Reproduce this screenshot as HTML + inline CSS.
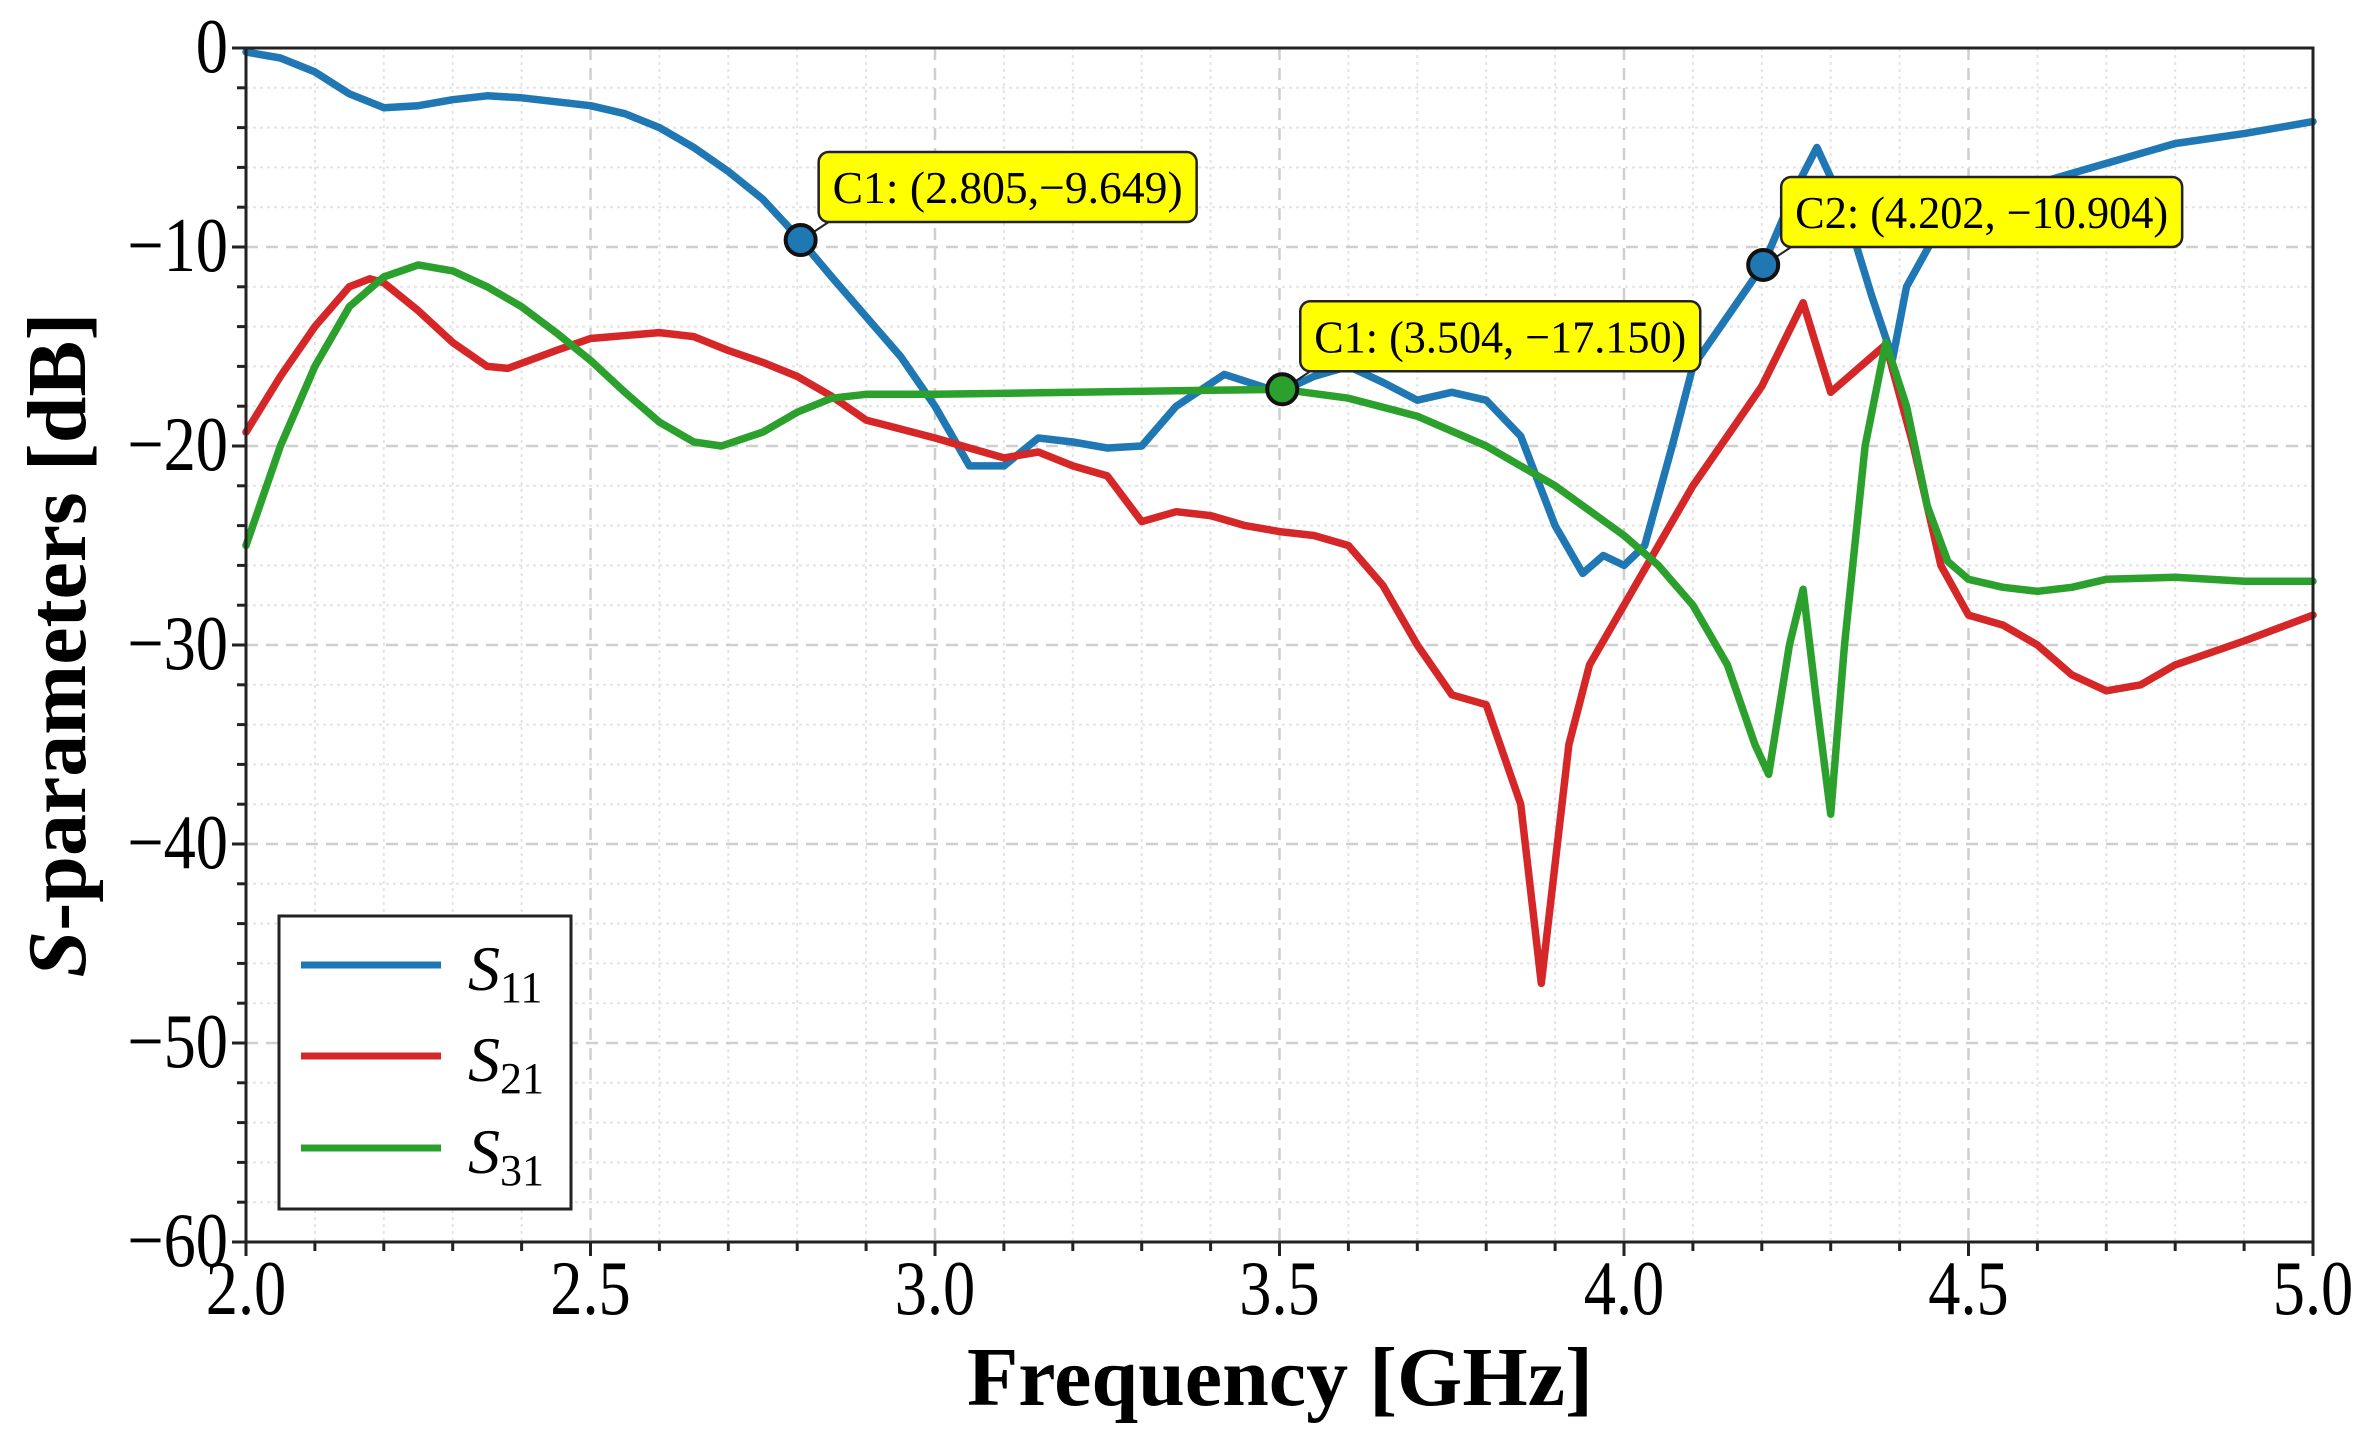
<!DOCTYPE html>
<html><head><meta charset="utf-8"><style>
html,body{margin:0;padding:0;background:#fff;}
svg{display:block;font-family:"Liberation Serif",serif;}
</style></head><body>
<svg id="chart" width="2368" height="1435" viewBox="0 0 2368 1435" xmlns="http://www.w3.org/2000/svg">
<g id="grid"></g>
<g id="series"></g>
<rect x="246" y="48" width="2067" height="1194" fill="none" stroke="#222" stroke-width="3"/>
<g id="ticks"></g>
<g id="annots"></g>
<text x="1280" y="1405" text-anchor="middle" font-size="84" font-weight="bold">Frequency [GHz]</text>
<text transform="translate(85,645) rotate(-90)" text-anchor="middle" font-size="84" font-weight="bold"><tspan font-style="italic">S</tspan>-parameters [dB]</text>
<g>
<rect x="279" y="916" width="292" height="293" fill="#fff" stroke="#222" stroke-width="3"/>
<line x1="301" y1="965" x2="441" y2="965" stroke="#1f77b4" stroke-width="7"/>
<text x="468" y="990" font-size="64" font-style="italic">S<tspan font-size="44" font-style="normal" dy="12">11</tspan></text>
<line x1="301" y1="1056" x2="441" y2="1056" stroke="#d62728" stroke-width="7"/>
<text x="468" y="1081" font-size="64" font-style="italic">S<tspan font-size="44" font-style="normal" dy="12">21</tspan></text>
<line x1="301" y1="1148" x2="441" y2="1148" stroke="#2ca02c" stroke-width="7"/>
<text x="468" y="1173" font-size="64" font-style="italic">S<tspan font-size="44" font-style="normal" dy="12">31</tspan></text>
</g>
</svg>
<script>
const s11F=[2.0,2.05,2.1,2.15,2.2,2.25,2.3,2.35,2.4,2.5,2.55,2.6,2.65,2.7,2.75,2.805,2.85,2.9,2.95,3.0,3.05,3.1,3.15,3.2,3.25,3.3,3.35,3.42,3.5,3.55,3.6,3.65,3.7,3.75,3.8,3.85,3.9,3.94,3.97,4.0,4.03,4.07,4.1,4.15,4.202,4.25,4.28,4.32,4.36,4.39,4.41,4.45,4.5,4.6,4.7,4.8,4.9,5.0];
const s11V=[-0.2,-0.5,-1.2,-2.3,-3.0,-2.9,-2.6,-2.4,-2.5,-2.9,-3.3,-4.0,-5.0,-6.2,-7.6,-9.649,-11.5,-13.5,-15.5,-18,-21,-21,-19.6,-19.8,-20.1,-20,-18,-16.4,-17.3,-16.5,-16,-16.8,-17.7,-17.3,-17.7,-19.5,-24,-26.4,-25.5,-26,-25,-20,-16,-13.5,-10.904,-7,-5,-8,-12.5,-15.6,-12,-9.5,-8,-6.8,-5.8,-4.8,-4.3,-3.7];
const s21F=[2.0,2.05,2.1,2.15,2.18,2.2,2.25,2.3,2.35,2.38,2.45,2.5,2.6,2.65,2.7,2.75,2.8,2.85,2.9,3.0,3.05,3.1,3.15,3.2,3.25,3.3,3.35,3.4,3.45,3.5,3.55,3.6,3.65,3.7,3.75,3.8,3.85,3.88,3.92,3.95,4.0,4.05,4.1,4.15,4.2,4.26,4.3,4.38,4.42,4.46,4.5,4.55,4.6,4.65,4.7,4.75,4.8,4.9,5.0];
const s21V=[-19.3,-16.5,-14,-12,-11.6,-11.8,-13.2,-14.8,-16,-16.1,-15.2,-14.6,-14.3,-14.5,-15.2,-15.8,-16.5,-17.5,-18.7,-19.6,-20.1,-20.6,-20.3,-21,-21.5,-23.8,-23.3,-23.5,-24,-24.3,-24.5,-25,-27,-30,-32.5,-33,-38,-47,-35,-31,-28,-25,-22,-19.5,-17,-12.8,-17.3,-14.9,-20,-26,-28.5,-29,-30,-31.5,-32.3,-32,-31,-29.8,-28.5];
const s31F=[2.0,2.05,2.1,2.15,2.2,2.25,2.3,2.35,2.4,2.45,2.5,2.55,2.6,2.65,2.69,2.75,2.8,2.85,2.9,3.0,3.2,3.4,3.504,3.6,3.7,3.8,3.9,4.0,4.05,4.1,4.15,4.19,4.21,4.24,4.26,4.28,4.3,4.32,4.35,4.38,4.41,4.44,4.47,4.5,4.55,4.6,4.65,4.7,4.8,4.9,5.0];
const s31V=[-25,-20,-16,-13,-11.5,-10.9,-11.2,-12,-13,-14.3,-15.7,-17.3,-18.8,-19.8,-20,-19.3,-18.3,-17.6,-17.4,-17.4,-17.3,-17.2,-17.15,-17.6,-18.5,-20,-22,-24.5,-26,-28,-31,-35,-36.5,-30,-27.2,-33,-38.5,-30,-20,-14.8,-18,-23,-25.8,-26.7,-27.1,-27.3,-27.1,-26.7,-26.6,-26.8,-26.8];
const xTicks=["2.0","2.5","3.0","3.5","4.0","4.5","5.0"];
const yTicks=["0","\u221210","\u221220","\u221230","\u221240","\u221250","\u221260"];
const markerF=[2.805,3.504,4.202];
const markerV=[-9.649,-17.15,-10.904];
const markerLabels=["C1: (2.805,\u22129.649)","C1: (3.504, \u221217.150)","C2: (4.202, \u221210.904)"];

const X0=246,X1=2313,Y0=48,Y1=1242,FMIN=2,FMAX=5,VMIN=-60,VMAX=0;
const sx=f=>X0+(f-FMIN)/(FMAX-FMIN)*(X1-X0);
const sy=v=>Y0+(VMAX-v)/(VMAX-VMIN)*(Y1-Y0);
const NS="http://www.w3.org/2000/svg";
function mk(tag,attrs,parent){const e=document.createElementNS(NS,tag);for(const k in attrs)e.setAttribute(k,attrs[k]);parent.appendChild(e);return e;}
const grid=document.getElementById('grid'),ticks=document.getElementById('ticks'),series=document.getElementById('series'),ann=document.getElementById('annots');
for(let i=0;i<=30;i++){const f=FMIN+i*0.1;const x=sx(f);
 const l=mk('line',{x1:x,y1:Y0,x2:x,y2:Y1,stroke:i%5==0?'#cfcfcf':'#e4e4e4','stroke-width':i%5==0?2.5:2,'stroke-dasharray':i%5==0?'12,8':'3,4'},grid);
 
 const t=mk('line',{x1:x,y1:Y1,x2:x,y2:Y1+(i%5==0?14:9),stroke:'#222','stroke-width':3},ticks);
 }
for(let i=0;i<=30;i++){const v=VMAX-i*2;const y=sy(v);
 const l=mk('line',{x1:X0,y1:y,x2:X1,y2:y,stroke:i%5==0?'#cfcfcf':'#e4e4e4','stroke-width':i%5==0?2.5:2,'stroke-dasharray':i%5==0?'12,8':'3,4'},grid);
 
 const t=mk('line',{x1:X0,y1:y,x2:X0-(i%5==0?14:9),y2:y,stroke:'#222','stroke-width':3},ticks);
 }
xTicks.forEach((s,i)=>{const x=sx(FMIN+i*0.5);const t=mk('text',{x:0,y:0,'text-anchor':'middle','font-size':70,transform:'translate('+x+',1314) scale(0.92,1.1)'},ticks);t.textContent=s;
 });
yTicks.forEach((s,i)=>{const y=sy(-i*10)+24;const t=mk('text',{x:0,y:0,'text-anchor':'end','font-size':70,transform:'translate(228,'+y+') scale(0.92,1.1)'},ticks);t.textContent=s;
 });
function line(F,V,color,name){const d=F.map((f,i)=>(i?'L':'M')+sx(f).toFixed(1)+','+sy(V[i]).toFixed(1)).join('');
 const p=mk('path',{d:d,fill:'none',stroke:color,'stroke-width':7.5,'stroke-linejoin':'round','stroke-linecap':'round'},series);
 }
line(s11F,s11V,'#1f77b4','s11-line');
line(s21F,s21V,'#d62728','s21-line');
line(s31F,s31V,'#2ca02c','s31-line');
const mColors=['#1f77b4','#2ca02c','#1f77b4'];
const boxW=[378,400,401];
markerF.forEach((f,i)=>{const x=sx(f),y=sy(markerV[i]);
 const bx=x+18,by=y-88,bh=70;
 const g=mk('g',{},ann);
 mk('line',{x1:x+10,y1:y-6,x2:bx+10,y2:by+bh,stroke:'#222','stroke-width':2},g);
 const r=mk('rect',{x:bx,y:by,width:boxW[i],height:bh,rx:10,fill:'#ffff00',stroke:'#222','stroke-width':2.5},g);
 
 const t=mk('text',{x:bx+boxW[i]/2,y:by+51,'font-size':46,'text-anchor':'middle',textLength:boxW[i]-28,lengthAdjust:'spacingAndGlyphs'},g);t.textContent=markerLabels[i];
 
 const c=mk('circle',{cx:x,cy:y,r:15,fill:mColors[i],stroke:'#111','stroke-width':4},g);
 
});
</script>
</body></html>
